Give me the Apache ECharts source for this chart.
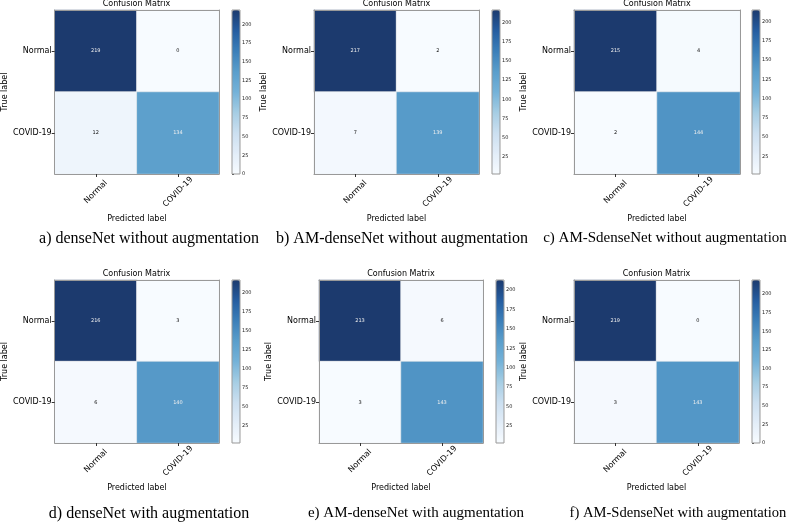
<!DOCTYPE html>
<html>
<head>
<meta charset="utf-8">
<script src="https://cdn.jsdelivr.net/npm/echarts@6/dist/echarts.min.js"></script>
<style>html,body{margin:0;padding:0;background:#fff;}#c{width:789px;height:523px;}</style>
</head>
<body>
<div id="c"></div>
<script>
// ---- data ----
const classes = ['Normal', 'COVID-19'];
const cmA = [[219, 0], [12, 134]];
const cmB = [[217, 2], [7, 139]];
const cmC = [[215, 4], [2, 144]];
const cmD = [[216, 3], [6, 140]];
const cmE = [[213, 6], [3, 143]];
const cmF = [[219, 0], [3, 143]];
const matrices = [cmA, cmB, cmC, cmD, cmE, cmF];
const captions = [
  'a) denseNet without augmentation',
  'b) AM-denseNet without augmentation',
  'c) AM-SdenseNet without augmentation',
  'd) denseNet with augmentation',
  'e) AM-denseNet with augmentation',
  'f) AM-SdenseNet with augmentation'
];
const colorbarTicks = [0, 25, 50, 75, 100, 125, 150, 175, 200];
const panelTitle = 'Confusion Matrix';
const xName = 'Predicted label';
const yName = 'True label';

// ---- layout (positions only) ----
const layout = [
  { g: [54, 10, 165, 164], cb: 232, titleTop: 0, cap: [149, 231], capSize: 16 },
  { g: [314, 10, 165, 164], cb: 492, titleTop: 0, cap: [402, 231], capSize: 16 },
  { g: [574, 10, 166, 164], cb: 752, titleTop: 0, cap: [665, 231], capSize: 15 },
  { g: [54, 280, 165, 163], cb: 232, titleTop: 270, cap: [149, 506], capSize: 16 },
  { g: [319, 280, 164, 163], cb: 496, titleTop: 270, cap: [416, 506], capSize: 15 },
  { g: [574, 280, 165, 163], cb: 752, titleTop: 270, cap: [678, 506], capSize: 14.6 }
];

const blues = ['#f7fbff', '#e2edf8', '#cbdff0', '#a5cde3', '#74b2d8', '#5a9ecb', '#3c7fb9', '#255da0', '#1c3a6e'];
const FONT = 'DejaVu Sans';

const option = {
  backgroundColor: '#fff',
  animation: false,
  title: [], grid: [], xAxis: [], yAxis: [], visualMap: [], series: []
};

matrices.forEach((cm, i) => {
  const L = layout[i];
  const [gl, gt, gw, gh] = L.g;
  const flat = cm.flat();
  const vmin = Math.min(...flat), vmax = Math.max(...flat);
  const thresh = vmax / 2;

  option.title.push({
    text: panelTitle, left: gl + gw / 2, top: L.titleTop, textAlign: 'center', padding: 0,
    textStyle: { fontSize: 8, fontWeight: 'normal', fontFamily: FONT, color: '#000' }
  });
  option.title.push({
    text: captions[i], left: L.cap[0], top: L.cap[1], textAlign: 'center', padding: 0,
    textStyle: { fontSize: L.capSize, fontWeight: 'normal', fontFamily: 'Liberation Serif', color: '#000' }
  });

  const gi = option.grid.length;
  option.grid.push({ left: gl, top: gt, width: gw, height: gh, containLabel: false });
  const ci = option.grid.length;
  option.grid.push({ left: L.cb, top: gt, width: 8, height: gh, containLabel: false,
    show: true, borderColor: '#999', borderWidth: 1, backgroundColor: 'transparent', z: 10 });

  const xi = option.xAxis.length;
  option.xAxis.push({
    type: 'category', data: classes, gridIndex: gi, position: 'bottom',
    name: xName, nameLocation: 'middle', nameGap: 41,
    nameTextStyle: { fontSize: 8, fontFamily: FONT, color: '#000' },
    axisLine: { show: true, lineStyle: { color: '#999', width: 1 } },
    axisTick: { show: true, alignWithLabel: true, length: 3, lineStyle: { color: '#333' } },
    axisLabel: { rotate: 45, fontSize: 8, fontFamily: FONT, color: '#000', margin: 18,
      align: 'center', verticalAlign: 'middle' },
    splitLine: { show: false }, z: 5
  });
  option.xAxis.push({
    type: 'category', data: classes, gridIndex: gi, position: 'top',
    axisLine: { show: true, lineStyle: { color: '#999', width: 1 } },
    axisTick: { show: false }, axisLabel: { show: false }, splitLine: { show: false }, z: 5
  });
  option.xAxis.push({ type: 'value', gridIndex: ci, show: false, min: 0, max: 1 });

  const yi = option.yAxis.length;
  option.yAxis.push({
    type: 'category', data: classes, gridIndex: gi, inverse: true, position: 'left',
    name: yName, nameLocation: 'middle', nameGap: 45, nameRotate: 90,
    nameTextStyle: { fontSize: 8, fontFamily: FONT, color: '#000' },
    axisLine: { show: true, lineStyle: { color: '#999', width: 1 } },
    axisTick: { show: true, alignWithLabel: true, length: 3, lineStyle: { color: '#333' } },
    axisLabel: { fontSize: 8, fontFamily: FONT, color: '#000', margin: 3 },
    splitLine: { show: false }, z: 5
  });
  option.yAxis.push({
    type: 'category', data: classes, gridIndex: gi, inverse: true, position: 'right',
    axisLine: { show: true, lineStyle: { color: '#999', width: 1 } },
    axisTick: { show: false }, axisLabel: { show: false }, splitLine: { show: false }, z: 5
  });
  const tickVals = colorbarTicks.filter(t => t >= vmin && t <= vmax);
  option.yAxis.push({
    type: 'value', gridIndex: ci, position: 'right', min: vmin, max: vmax,
    axisLine: { show: false },
    axisTick: { show: true, length: 2, customValues: tickVals, lineStyle: { color: '#333' } },
    axisLabel: { show: true, fontSize: 5, fontFamily: FONT, color: '#222', margin: 2, customValues: tickVals },
    splitLine: { show: false }
  });

  const si = option.series.length;
  const data = [];
  cm.forEach((row, r) => row.forEach((v, c) => {
    data.push({ value: [c, r, v], label: { color: v > thresh ? '#eeeeee' : '#111' } });
  }));
  option.series.push({
    type: 'heatmap', xAxisIndex: xi, yAxisIndex: yi, data: data,
    label: { show: true, fontSize: 5, fontFamily: FONT, formatter: p => String(p.value[2]) },
    itemStyle: { borderColor: '#f0f0f0', borderWidth: 0.6 },
    emphasis: { disabled: true }
  });

  option.visualMap.push({
    type: 'continuous', seriesIndex: si, min: vmin, max: vmax,
    left: L.cb, top: gt, itemWidth: 8, itemHeight: gh, padding: 0,
    calculable: false, hoverLink: false, text: ['', ''], textGap: 0,
    inRange: { color: blues }
  });
});

const chart = echarts.init(document.getElementById('c'), null, { renderer: 'canvas' });
chart.setOption(option);
</script>
</body>
</html>
